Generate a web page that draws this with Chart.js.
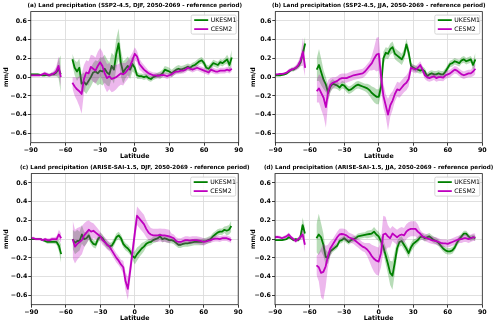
<!DOCTYPE html>
<html><head><meta charset="utf-8">
<script src="https://cdn.jsdelivr.net/npm/chart.js@4/dist/chart.umd.min.js"></script>
<style>
html,body{margin:0;padding:0;background:#fff;}
#wrap{position:relative;width:500px;height:325px;overflow:hidden;}
#wrap canvas{position:absolute;left:0;top:0;}
</style></head>
<body><div id="wrap">
<canvas id="ca" width="500" height="325"></canvas>
<canvas id="cb" width="500" height="325"></canvas>
<canvas id="cc" width="500" height="325"></canvas>
<canvas id="cd" width="500" height="325"></canvas>
</div>
<script>
// ---------------- DATA ----------------
const lat = [-90,-88,-86,-84,-82,-80,-78,-76,-74,-72,-70,-68,-66,-64,-59,
-54,-52,-50,-48,-46,-44,-42,-40,-38,-36,-34,-32,-30,-28,-26,-24,-22,-20,-18,-16,-14,-12,-10,-8,-6,-4,-2,
0,2,4,6,8,10,12,14,16,18,20,22,24,26,28,30,32,34,36,38,40,42,44,46,48,50,52,54,56,58,60,62,64,66,68,70,72,74,76,78,80,82,84];

const xTicks = [-90,-60,-30,0,30,60,90];
const yTicks = [-0.6,-0.4,-0.2,0.0,0.2,0.4,0.6];
const seriesNames = ['UKESM1','CESM2'];
const panelTitles = [
 '(a) Land precipitation (SSP2-4.5, DJF, 2050-2069 - reference period)',
 '(b) Land precipitation (SSP2-4.5, JJA, 2050-2069 - reference period)',
 '(c) Land precipitation (ARISE-SAI-1.5, DJF, 2050-2069 - reference period)',
 '(d) Land precipitation (ARISE-SAI-1.5, JJA, 2050-2069 - reference period)'
];

// Panel (a)
const aUK = [0.03,0.03,0.03,0.03,0.025,0.02,0.02,0.025,0.02,0.03,0.03,0.05,0.09,0.03,null,
0.19,0.1,0.06,0.1,-0.07,-0.05,-0.08,-0.04,0.0,0.05,0.06,0.04,0.07,0.06,0.09,0.05,0.03,0.12,0.08,0.25,0.36,0.15,0.05,0.09,0.12,0.08,0.14,
0.1,0.02,0.01,0.01,0.0,0.01,-0.01,-0.02,0.0,0.01,0.02,0.02,0.04,0.08,0.07,0.06,0.04,0.06,0.08,0.09,0.08,0.09,0.1,0.11,0.1,0.12,0.13,0.15,0.17,0.18,0.15,0.1,0.09,0.12,0.15,0.14,0.13,0.16,0.15,0.17,0.19,0.13,0.21];
const aUKspread = [0.01,0.01,0.01,0.01,0.01,0.01,0.01,0.015,0.015,0.02,0.02,0.04,0.1,0.2,null,
0.06,0.08,0.1,0.1,0.1,0.1,0.1,0.1,0.1,0.1,0.12,0.13,0.14,0.15,0.15,0.14,0.13,0.14,0.15,0.16,0.16,0.14,0.12,0.1,0.1,0.1,0.08,
0.06,0.04,0.03,0.03,0.03,0.03,0.03,0.03,0.03,0.03,0.03,0.04,0.04,0.04,0.04,0.04,0.04,0.04,0.04,0.04,0.04,0.035,0.035,0.035,0.035,0.035,0.035,0.035,0.035,0.035,0.035,0.035,0.035,0.035,0.035,0.035,0.035,0.035,0.035,0.035,0.05,0.06,0.08];
const aCE = [0.02,0.02,0.02,0.02,0.02,0.03,0.04,0.03,0.02,0.03,0.04,0.06,0.12,0.0,null,
-0.06,-0.1,-0.13,-0.15,-0.18,-0.02,0.05,0.04,0.11,0.09,0.07,0.12,0.16,0.12,0.04,-0.01,0.01,-0.02,-0.01,0.0,0.02,0.04,0.03,0.05,0.08,0.12,0.18,
0.25,0.22,0.14,0.11,0.08,0.06,0.04,0.03,0.02,0.02,0.015,0.02,0.025,0.02,0.01,0.02,0.03,0.05,0.06,0.06,0.07,0.07,0.08,0.1,0.09,0.08,0.09,0.1,0.09,0.08,0.07,0.06,0.05,0.08,0.07,0.06,0.06,0.07,0.07,0.07,0.08,0.07,0.09];
const aCEspread = [0.01,0.01,0.01,0.01,0.01,0.015,0.02,0.02,0.02,0.02,0.03,0.05,0.1,0.1,null,
0.06,0.1,0.12,0.16,0.21,0.15,0.13,0.13,0.13,0.14,0.14,0.15,0.15,0.15,0.15,0.15,0.14,0.14,0.14,0.13,0.12,0.12,0.12,0.1,0.1,0.1,0.08,
0.07,0.06,0.06,0.05,0.05,0.04,0.03,0.03,0.03,0.03,0.03,0.03,0.03,0.03,0.03,0.03,0.03,0.03,0.03,0.03,0.03,0.03,0.03,0.03,0.03,0.03,0.03,0.03,0.03,0.03,0.03,0.03,0.03,0.03,0.03,0.03,0.03,0.03,0.03,0.03,0.03,0.03,0.03];

// Panel (b)
const bUK = [0.02,0.02,0.02,0.025,0.03,0.04,0.06,0.08,0.08,0.1,0.12,0.16,0.26,0.36,null,
0.08,0.13,0.05,-0.03,-0.08,-0.17,-0.1,-0.07,-0.08,-0.09,-0.11,-0.08,-0.09,-0.12,-0.14,-0.13,-0.11,-0.09,-0.08,-0.09,-0.1,-0.11,-0.12,-0.14,-0.17,-0.19,-0.21,
-0.21,-0.1,0.2,0.26,0.25,0.3,0.32,0.25,0.23,0.21,0.19,0.24,0.35,0.26,0.12,0.1,0.09,0.08,0.07,0.08,0.06,0.01,0.03,0.04,0.03,0.03,0.04,0.03,0.03,0.06,0.1,0.14,0.15,0.17,0.16,0.15,0.18,0.19,0.17,0.18,0.19,0.13,0.19];
const bUKspread = [0.01,0.01,0.01,0.01,0.01,0.015,0.015,0.02,0.02,0.02,0.03,0.04,0.06,0.08,null,
0.12,0.17,0.14,0.1,0.08,0.07,0.06,0.05,0.04,0.04,0.04,0.04,0.04,0.04,0.04,0.04,0.04,0.04,0.04,0.04,0.04,0.04,0.05,0.06,0.07,0.08,0.08,
0.08,0.08,0.07,0.06,0.06,0.06,0.06,0.06,0.06,0.06,0.06,0.06,0.06,0.06,0.035,0.035,0.035,0.035,0.035,0.035,0.035,0.035,0.035,0.035,0.035,0.035,0.035,0.035,0.035,0.035,0.035,0.035,0.035,0.035,0.035,0.035,0.035,0.035,0.035,0.035,0.035,0.05,0.07];
const bCE = [0.03,0.03,0.035,0.035,0.04,0.05,0.07,0.08,0.09,0.1,0.13,0.18,0.27,0.1,null,
-0.15,-0.12,-0.17,-0.22,-0.32,-0.15,-0.08,-0.06,-0.05,-0.04,-0.02,-0.01,-0.01,-0.01,0.0,0.01,0.02,0.025,0.03,0.035,0.04,0.06,0.09,0.12,0.15,0.2,0.24,
0.25,0.0,-0.2,-0.3,-0.4,-0.3,-0.25,-0.18,-0.13,-0.14,-0.11,-0.08,-0.06,-0.02,0.1,0.09,0.08,0.1,0.13,0.08,0.02,0.0,-0.01,0.0,0.01,-0.01,0.0,0.0,-0.005,0.02,0.03,0.04,0.06,0.08,0.07,0.05,0.03,0.02,0.03,0.04,0.04,0.06,0.09];
const bCEspread = [0.01,0.01,0.01,0.01,0.01,0.015,0.02,0.02,0.02,0.03,0.04,0.06,0.15,0.1,null,
0.12,0.15,0.18,0.2,0.22,0.12,0.07,0.06,0.05,0.05,0.05,0.05,0.05,0.05,0.05,0.05,0.05,0.05,0.05,0.05,0.05,0.05,0.05,0.05,0.08,0.12,0.18,
0.18,0.15,0.13,0.12,0.17,0.12,0.1,0.08,0.08,0.08,0.08,0.08,0.08,0.08,0.04,0.04,0.04,0.04,0.04,0.04,0.04,0.04,0.04,0.04,0.04,0.04,0.04,0.04,0.04,0.04,0.04,0.04,0.04,0.04,0.04,0.04,0.04,0.04,0.04,0.04,0.04,0.05,0.06];

// Panel (c)
const cUK = [0.0,0.0,0.0,0.0,0.0,-0.01,-0.02,-0.03,-0.03,-0.03,-0.03,-0.03,-0.07,-0.16,null,
0.0,-0.04,-0.02,-0.02,0.05,0.0,0.01,0.04,-0.02,-0.05,-0.06,0.0,0.03,0.01,-0.03,-0.06,-0.08,-0.07,-0.03,0.02,0.04,0.01,-0.05,-0.08,-0.1,-0.13,-0.18,
-0.2,-0.16,-0.13,-0.1,-0.08,-0.05,-0.035,-0.03,-0.01,0.0,0.01,0.03,0.0,0.01,0.0,-0.01,-0.01,-0.02,-0.04,-0.06,-0.06,-0.05,-0.045,-0.045,-0.04,-0.035,-0.03,-0.03,-0.03,-0.03,-0.025,-0.02,-0.01,0.0,0.03,0.05,0.07,0.08,0.08,0.1,0.09,0.1,0.14];
const cUKspread = [0.01,0.01,0.01,0.01,0.01,0.01,0.015,0.02,0.02,0.02,0.02,0.03,0.06,0.1,null,
0.1,0.12,0.12,0.1,0.1,0.08,0.06,0.05,0.04,0.04,0.04,0.04,0.04,0.04,0.04,0.04,0.04,0.04,0.04,0.04,0.04,0.04,0.04,0.04,0.04,0.04,0.04,
0.07,0.07,0.06,0.06,0.05,0.035,0.035,0.035,0.035,0.035,0.035,0.035,0.035,0.035,0.035,0.035,0.035,0.035,0.035,0.035,0.035,0.035,0.035,0.035,0.035,0.035,0.035,0.035,0.035,0.035,0.035,0.035,0.035,0.035,0.035,0.035,0.035,0.035,0.035,0.035,0.05,0.05,0.06];
const cCE = [0.01,0.01,0.0,0.0,0.0,-0.01,0.0,-0.01,-0.01,0.0,0.0,0.0,0.05,0.01,null,
0.0,-0.08,-0.05,-0.03,-0.01,0.04,0.07,0.1,0.08,0.09,0.07,0.05,0.03,-0.01,-0.03,-0.06,-0.08,-0.12,-0.16,-0.2,-0.23,-0.27,-0.3,-0.45,-0.53,-0.34,-0.14,
0.06,0.25,0.22,0.19,0.16,0.11,0.07,0.05,0.04,0.04,0.04,0.045,0.04,0.04,0.035,0.03,0.02,0.01,-0.02,-0.03,-0.03,-0.02,-0.01,-0.01,-0.015,-0.01,-0.01,-0.01,-0.015,-0.02,-0.03,-0.025,-0.015,-0.01,0.0,0.005,0.005,0.0,0.01,0.01,0.01,0.0,-0.01];
const cCEspread = [0.015,0.015,0.015,0.015,0.015,0.015,0.015,0.02,0.02,0.02,0.02,0.03,0.05,0.05,null,
0.2,0.18,0.17,0.16,0.15,0.13,0.12,0.1,0.1,0.08,0.07,0.06,0.05,0.05,0.05,0.05,0.05,0.05,0.05,0.05,0.05,0.05,0.07,0.1,0.12,0.1,0.1,
0.1,0.1,0.1,0.1,0.1,0.09,0.08,0.07,0.07,0.07,0.07,0.07,0.07,0.07,0.07,0.07,0.04,0.04,0.04,0.04,0.04,0.04,0.04,0.04,0.04,0.04,0.04,0.04,0.04,0.04,0.04,0.03,0.03,0.03,0.03,0.03,0.03,0.03,0.03,0.03,0.03,0.03,0.03];

// Panel (d)
const dUK = [-0.01,-0.01,-0.01,-0.01,-0.005,0.0,0.02,0.01,-0.01,0.0,-0.01,0.02,0.15,0.06,null,
0.01,0.05,0.02,-0.06,-0.19,-0.2,-0.13,-0.11,-0.09,-0.07,-0.02,-0.01,0.01,-0.01,-0.03,-0.01,0.0,0.01,0.03,0.035,0.04,0.045,0.05,0.055,0.06,0.08,0.05,
0.03,-0.02,-0.08,-0.17,-0.26,-0.36,-0.39,-0.25,-0.1,-0.03,-0.02,-0.06,-0.1,-0.15,-0.09,-0.05,-0.03,-0.01,0.02,0.03,0.01,0.02,0.03,0.01,-0.01,-0.02,-0.04,-0.07,-0.1,-0.12,-0.13,-0.13,-0.12,-0.09,-0.04,0.0,0.03,0.06,0.06,0.03,0.01,0.02,0.01];
const dUKspread = [0.01,0.01,0.01,0.01,0.01,0.01,0.015,0.015,0.015,0.015,0.02,0.03,0.08,0.06,null,
0.15,0.22,0.15,0.12,0.08,0.06,0.05,0.03,0.03,0.03,0.03,0.03,0.03,0.03,0.03,0.03,0.03,0.03,0.03,0.03,0.03,0.03,0.04,0.04,0.04,0.05,0.05,
0.05,0.06,0.07,0.09,0.11,0.13,0.15,0.12,0.08,0.05,0.05,0.05,0.05,0.05,0.05,0.05,0.035,0.035,0.035,0.035,0.035,0.035,0.035,0.035,0.035,0.035,0.035,0.035,0.035,0.035,0.035,0.035,0.035,0.035,0.035,0.035,0.03,0.03,0.03,0.03,0.03,0.03,0.03];
const dCE = [0.02,0.025,0.02,0.01,0.02,0.03,0.05,0.02,0.0,-0.02,0.0,0.02,0.05,-0.06,null,
-0.28,-0.3,-0.36,-0.35,-0.29,-0.18,-0.1,-0.06,-0.02,0.02,0.05,0.055,0.05,0.04,0.02,0.01,0.0,-0.02,-0.04,-0.06,-0.08,-0.09,-0.11,-0.14,-0.18,-0.21,-0.23,
-0.24,-0.15,0.05,0.06,0.03,0.01,0.06,0.04,0.02,0.04,0.05,0.04,0.08,0.1,0.11,0.11,0.11,0.08,0.06,0.03,0.02,0.01,0.0,-0.01,-0.015,-0.02,-0.03,-0.04,-0.045,-0.045,-0.05,-0.04,-0.03,-0.02,-0.01,0.0,0.0,0.01,0.01,0.0,0.01,0.02,0.02];
const dCEspread = [0.015,0.015,0.015,0.015,0.015,0.02,0.02,0.02,0.02,0.02,0.02,0.03,0.05,0.08,null,
0.1,0.15,0.26,0.3,0.22,0.12,0.08,0.06,0.06,0.06,0.06,0.06,0.06,0.06,0.05,0.05,0.05,0.05,0.05,0.05,0.05,0.05,0.07,0.1,0.12,0.14,0.15,
0.15,0.15,0.2,0.18,0.12,0.1,0.08,0.08,0.08,0.08,0.08,0.08,0.08,0.08,0.08,0.08,0.08,0.08,0.04,0.04,0.04,0.04,0.04,0.04,0.04,0.04,0.04,0.04,0.04,0.04,0.04,0.04,0.04,0.04,0.04,0.04,0.04,0.04,0.04,0.04,0.04,0.04,0.04];

// ---------------- STYLE ----------------
const GREEN = '#008000', MAG = '#bf00bf';
const GREEN_F = 'rgba(0,128,0,0.28)', MAG_F = 'rgba(191,0,191,0.28)';
const FONT = '"DejaVu Sans", sans-serif';
const minus = v => (v < 0 ? '\u2212' : '');

function pts(vals, spread, sign) {
  return lat.map((x, i) => ({x: x, y: vals[i] === null ? null : (spread ? vals[i] + sign * spread[i] : vals[i])}));
}

let titleSize = null;
const panelPlugin = {
  id: 'panelDeco',
  afterDraw(chart, args, opts) {
    const ctx = chart.ctx, a = chart.chartArea;
    ctx.save();
    ctx.strokeStyle = '#222'; ctx.lineWidth = 0.8;
    ctx.strokeRect(a.left, a.top, a.right - a.left, a.bottom - a.top);
    if (titleSize === null) {
      ctx.font = 'bold 10px ' + FONT;
      titleSize = 10 * 215 / ctx.measureText(panelTitles[0]).width;
    }
    ctx.font = 'bold ' + titleSize.toFixed(2) + 'px ' + FONT;
    ctx.fillStyle = '#000'; ctx.textAlign = 'center'; ctx.textBaseline = 'middle';
    ctx.fillText(opts.text, (a.left + a.right) / 2, a.top - 5.6);
    const w = 45, h = 19, x0 = a.right - w - 2.5, y0 = a.top + 3.5;
    ctx.fillStyle = 'rgba(255,255,255,0.85)';
    ctx.strokeStyle = '#cccccc'; ctx.lineWidth = 0.8;
    ctx.beginPath();
    if (ctx.roundRect) ctx.roundRect(x0, y0, w, h, 1.5); else ctx.rect(x0, y0, w, h);
    ctx.fill(); ctx.stroke();
    const cols = [GREEN, MAG];
    ctx.font = '6.2px ' + FONT; ctx.textAlign = 'left';
    for (let k = 0; k < 2; k++) {
      const yy = y0 + 5 + k * 9;
      ctx.strokeStyle = cols[k]; ctx.lineWidth = 1.8;
      ctx.beginPath(); ctx.moveTo(x0 + 3, yy); ctx.lineTo(x0 + 17, yy); ctx.stroke();
      ctx.fillStyle = '#000';
      ctx.fillText(seriesNames[k], x0 + 19.5, yy + 0.3);
    }
    ctx.restore();
  }
};

function makePanel(id, title, L, R, T, B, padL, uk, ukS, ce, ceS) {
  const xh = 18;
  const ds = [
    {data: pts(uk, ukS, -1), borderWidth: 0, pointRadius: 0, fill: false, order: 6},
    {data: pts(uk, ukS, 1), borderWidth: 0, pointRadius: 0, fill: '-1', backgroundColor: GREEN_F, order: 5},
    {data: pts(uk, null, 0), borderColor: GREEN, borderWidth: 1.8, pointRadius: 0, fill: false, order: 4},
    {data: pts(ce, ceS, -1), borderWidth: 0, pointRadius: 0, fill: false, order: 3},
    {data: pts(ce, ceS, 1), borderWidth: 0, pointRadius: 0, fill: '-1', backgroundColor: MAG_F, order: 2},
    {data: pts(ce, null, 0), borderColor: MAG, borderWidth: 1.8, pointRadius: 0, fill: false, order: 1}
  ];
  ds.forEach(d => { d.spanGaps = false; d.tension = 0; d.borderJoinStyle = 'round'; });
  new Chart(document.getElementById(id), {
    type: 'line',
    data: {datasets: ds},
    options: {
      responsive: false, animation: false, devicePixelRatio: 1,
      layout: {padding: {left: padL, right: 500 - R, top: T, bottom: 325 - B - xh}},
      plugins: {legend: {display: false}, tooltip: {enabled: false}, title: {display: false},
                panelDeco: {text: title}},
      scales: {
        x: {
          type: 'linear', min: -90, max: 90,
          afterBuildTicks: s => { s.ticks = xTicks.map(v => ({value: v})); },
          afterFit: s => { s.height = xh; },
          grid: {color: '#dcdcdc', lineWidth: 0.9, tickLength: 3, tickColor: '#222', drawTicks: true},
          border: {display: false},
          ticks: {font: {family: FONT, size: 6.3, weight: 'bold'}, color: '#000', padding: 1, maxRotation: 0,
                  callback: v => minus(v) + Math.abs(v)},
          title: {display: true, text: 'Latitude', font: {family: FONT, size: 6.3, weight: 'bold'}, color: '#000',
                  padding: {top: 0, bottom: 1}}
        },
        y: {
          type: 'linear', min: -0.7, max: 0.7,
          afterBuildTicks: s => { s.ticks = yTicks.map(v => ({value: v})); },
          afterFit: s => { s.width = L - padL; },
          grid: {color: '#dcdcdc', lineWidth: 0.9, tickLength: 3, tickColor: '#222', drawTicks: true},
          border: {display: false},
          ticks: {font: {family: FONT, size: 6.3, weight: 'bold'}, color: '#000', padding: 1,
                  callback: v => minus(v) + Math.abs(v).toFixed(1)},
          title: {display: true, text: 'mm/d', font: {family: FONT, size: 6.3, weight: 'bold'}, color: '#000',
                  padding: {top: 2.4, bottom: 0}}
        }
      }
    },
    plugins: [panelPlugin]
  });
}

makePanel('ca', panelTitles[0], 30.8, 238.7, 11.6, 142.7, 0, aUK, aUKspread, aCE, aCEspread);
makePanel('cb', panelTitles[1], 275.3, 482.3, 11.6, 142.7, 247, bUK, bUKspread, bCE, bCEspread);
makePanel('cc', panelTitles[2], 31.3, 238.2, 173.6, 304.7, 0, cUK, cUKspread, cCE, cCEspread);
makePanel('cd', panelTitles[3], 275.0, 482.3, 173.6, 304.7, 247, dUK, dUKspread, dCE, dCEspread);
</script>
</body></html>
